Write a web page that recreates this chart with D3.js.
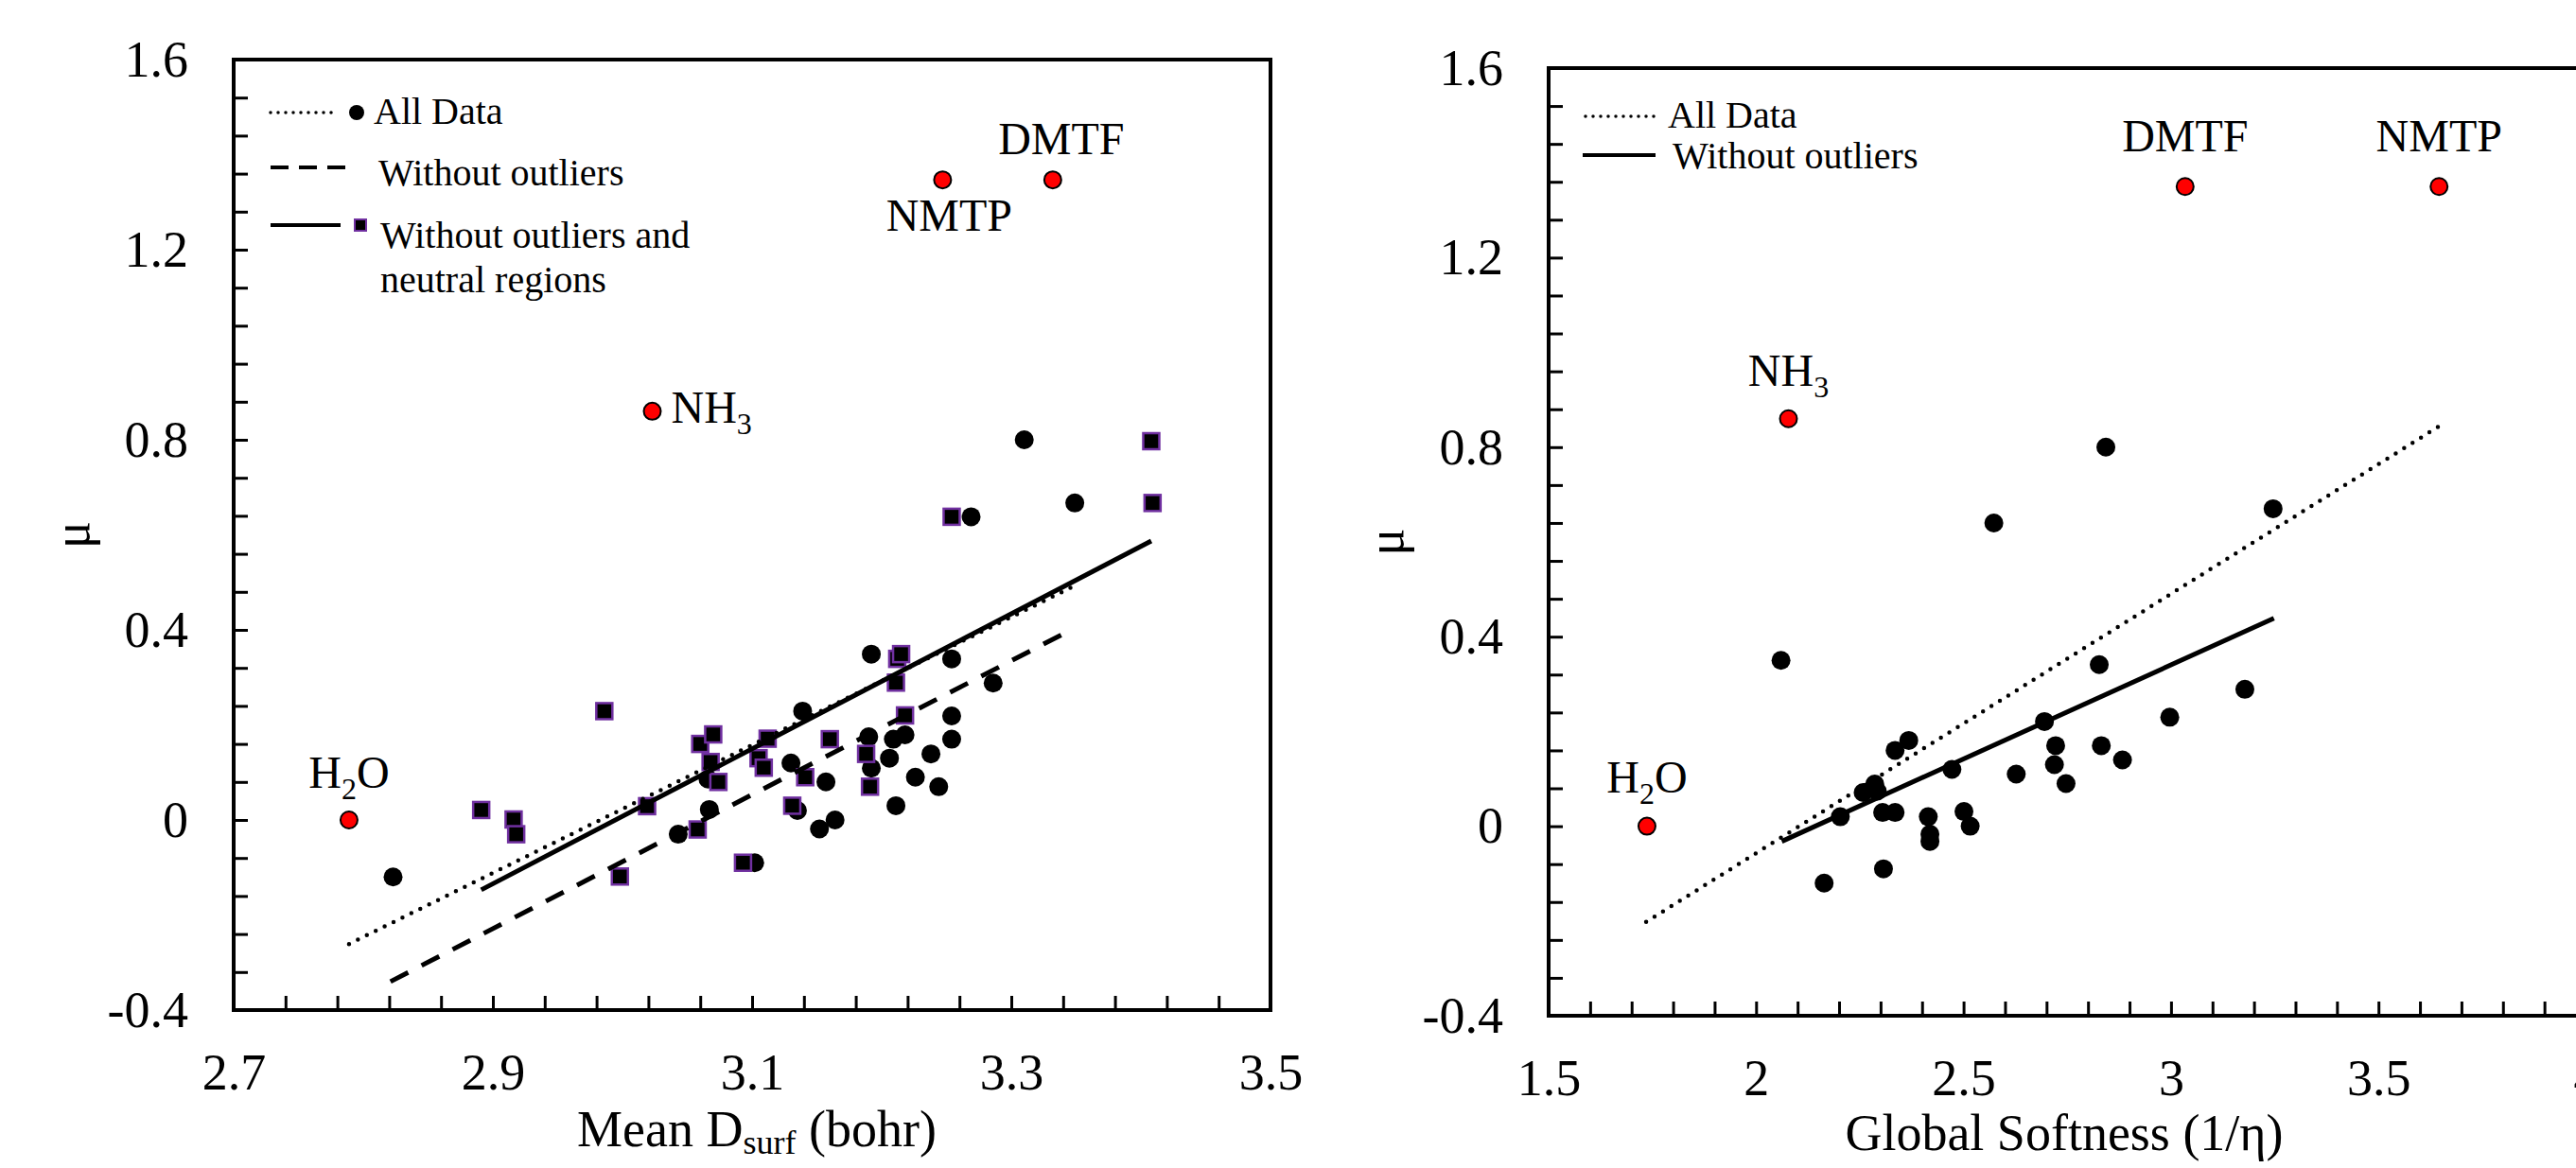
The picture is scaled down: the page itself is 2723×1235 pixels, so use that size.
<!DOCTYPE html>
<html>
<head>
<meta charset="utf-8">
<script src="https://cdn.jsdelivr.net/npm/d3@7"></script>
<style>
  html, body { margin: 0; padding: 0; background: #fff; overflow: hidden; }
  svg { display: block; font-family: "Liberation Serif", "Times New Roman", serif; }
</style>
</head>
<body>
<svg id="chart" width="2723" height="1235"></svg>
<script>
// ---- data ----
const yTickLabels = ["-0.4", "0", "0.4", "0.8", "1.2", "1.6"];
const leftXTickLabels = ["2.7", "2.9", "3.1", "3.3", "3.5"];
const rightXTickLabels = ["1.5", "2", "2.5", "3", "3.5", "4"];

// left panel: mean D_surf vs mu
const leftAllData = [
  [2.823, -0.12], [3.043, -0.03], [3.067, 0.022], [3.066, 0.086], [3.102, -0.09],
  [3.130, 0.12], [3.135, 0.02], [3.139, 0.229], [3.152, -0.019], [3.157, 0.08],
  [3.164, 0.0], [3.190, 0.175], [3.192, 0.349], [3.192, 0.109], [3.206, 0.13],
  [3.209, 0.17], [3.211, 0.03], [3.218, 0.179], [3.226, 0.09], [3.238, 0.139],
  [3.244, 0.07], [3.254, 0.339], [3.254, 0.219], [3.254, 0.17], [3.286, 0.288],
  [3.269, 0.638], [3.310, 0.80], [3.349, 0.667]
];
const leftNeutral = [
  [2.891, 0.021], [2.916, 0.001], [2.918, -0.03], [2.986, 0.229], [2.998, -0.119],
  [3.019, 0.029], [3.058, -0.02], [3.060, 0.16], [3.070, 0.18], [3.068, 0.122],
  [3.074, 0.08], [3.093, -0.09], [3.105, 0.13], [3.109, 0.11], [3.112, 0.171],
  [3.131, 0.03], [3.141, 0.09], [3.160, 0.17], [3.188, 0.139], [3.191, 0.07],
  [3.211, 0.289], [3.212, 0.339], [3.215, 0.349], [3.218, 0.22], [3.254, 0.638],
  [3.408, 0.797], [3.409, 0.667]
];
const leftOutlierNames = ["H2O", "NH3", "NMTP", "DMTF"];
const leftOutliers = [[2.789, 0.0], [3.023, 0.86], [3.247, 1.347], [3.332, 1.347]];
const leftFitAll = [[2.789, -0.261], [3.346, 0.489]];
const leftFitNoOutliers = [[2.821, -0.340], [3.339, 0.390]];
const leftFitNeutral = [[2.891, -0.147], [3.408, 0.587]];

// right panel: global softness vs mu
const rightAllData = [
  [2.060, 0.35], [2.164, -0.12], [2.203, 0.02], [2.258, 0.071], [2.286, 0.089],
  [2.292, 0.074], [2.305, 0.029], [2.307, -0.09], [2.335, 0.029], [2.335, 0.16],
  [2.368, 0.181], [2.415, 0.02], [2.419, -0.017], [2.419, -0.032], [2.472, 0.12],
  [2.501, 0.031], [2.516, 0.0], [2.573, 0.64], [2.627, 0.11], [2.695, 0.221],
  [2.719, 0.13], [2.722, 0.17], [2.747, 0.09], [2.827, 0.341], [2.832, 0.17],
  [2.843, 0.80], [2.883, 0.14], [2.997, 0.23], [3.178, 0.289], [3.246, 0.67]
];
const rightOutlierNames = ["H2O", "NH3", "DMTF", "NMTP"];
const rightOutliers = [[1.737, 0.0], [2.078, 0.86], [3.034, 1.35], [3.646, 1.35]];
const rightFitAll = [[1.735, -0.202], [3.646, 0.844]];
const rightFitNoOutliers = [[2.062, -0.032], [3.248, 0.439]];

// ---- layout ----
const svg = d3.select("#chart");
const FONT = "'Liberation Serif', 'Times New Roman', serif";

const panels = [
  {
    xDomain: [2.7, 3.5], xRange: [247, 1343], yRange: [1068, 63], xMinor: 0.04,
    xTicks: leftXTickLabels, circles: leftAllData, squares: leftNeutral,
    outliers: leftOutliers, names: leftOutlierNames,
    fits: [
      { pts: leftFitAll, style: "dot" },
      { pts: leftFitNoOutliers, style: "dash" },
      { pts: leftFitNeutral, style: "solid" }
    ],
    xTitle: ["Mean D", "surf", " (bohr)"], xTitlePos: [800, 1212], yTitleX: 76,
    labelOffsets: { H2O: [0, -34, "middle"], NH3: [20, 12, "start"], NMTP: [7, 54, "middle"], DMTF: [9, -27, "middle"] }
  },
  {
    xDomain: [1.5, 4], xRange: [1637, 2733.5], yRange: [1074, 72], xMinor: 0.1,
    xTicks: rightXTickLabels, circles: rightAllData, squares: [],
    outliers: rightOutliers, names: rightOutlierNames,
    fits: [
      { pts: rightFitAll, style: "dot" },
      { pts: rightFitNoOutliers, style: "solid" }
    ],
    xTitle: ["Global Softness (1/\u03b7)"], xTitlePos: [2182, 1216], yTitleX: 1465,
    labelOffsets: { H2O: [0, -36, "middle"], NH3: [0, -35, "middle"], NMTP: [0, -37, "middle"], DMTF: [0, -37, "middle"] }
  }
];

function lineStyle(sel, style) {
  sel.attr("fill", "none").attr("stroke", "#000");
  if (style === "dot") {
    sel.attr("stroke-width", 4.5).attr("stroke-dasharray", "0,10.5").attr("stroke-linecap", "round");
  } else if (style === "dash") {
    sel.attr("stroke-width", 5).attr("stroke-dasharray", "21,16");
  } else {
    sel.attr("stroke-width", 5);
  }
}

function addChemLabel(g, name, px, py, anchor) {
  const t = g.append("text")
    .attr("x", px).attr("y", py)
    .attr("text-anchor", anchor)
    .attr("font-size", 48)
    .attr("font-family", FONT);
  const m = name.match(/^([A-Z]+)(\d)(.*)$/);
  if (m) {
    t.append("tspan").text(m[1]);
    t.append("tspan").attr("font-size", 32).attr("dy", 12).text(m[2]);
    if (m[3]) t.append("tspan").attr("dy", -12).text(m[3]);
  } else {
    t.text(name);
  }
}

function drawPanel(p) {
  const x = d3.scaleLinear().domain(p.xDomain).range(p.xRange);
  const y = d3.scaleLinear().domain([-0.4, 1.6]).range(p.yRange);
  const g = svg.append("g");
  const bottom = p.yRange[0], top = p.yRange[1];
  const left = p.xRange[0], right = p.xRange[1];

  // minor + major ticks (inward)
  const xMinorVals = d3.range(0, Math.round((p.xDomain[1] - p.xDomain[0]) / p.xMinor) + 1)
    .map(i => p.xDomain[0] + i * p.xMinor);
  const yMinorVals = d3.range(0, 26).map(i => -0.4 + i * 0.08);

  const xTickAxis = g.append("g").attr("transform", `translate(0,${bottom})`)
    .call(d3.axisBottom(x).tickValues(xMinorVals).tickSize(-15).tickFormat(""));
  const yTickAxis = g.append("g").attr("transform", `translate(${left},0)`)
    .call(d3.axisLeft(y).tickValues(yMinorVals).tickSize(-15).tickFormat(""));
  [xTickAxis, yTickAxis].forEach(a => {
    a.select(".domain").remove();
    a.selectAll(".tick line").attr("stroke", "#000").attr("stroke-width", 3);
  });

  // tick labels
  const xLab = g.append("g").attr("transform", `translate(0,${bottom})`)
    .call(d3.axisBottom(x).tickValues(p.xTicks.map(Number))
      .tickFormat((d, i) => p.xTicks[i]).tickSize(0).tickPadding(46));
  const yLab = g.append("g").attr("transform", `translate(${left},0)`)
    .call(d3.axisLeft(y).tickValues(yTickLabels.map(Number))
      .tickFormat((d, i) => yTickLabels[i]).tickSize(0).tickPadding(48));
  [xLab, yLab].forEach(a => {
    a.select(".domain").remove();
    a.attr("font-family", FONT).attr("font-size", 54);
    a.selectAll("text").attr("fill", "#000");
  });

  // frame
  g.append("rect")
    .attr("x", left).attr("y", top)
    .attr("width", right - left).attr("height", bottom - top)
    .attr("fill", "none").attr("stroke", "#000").attr("stroke-width", 4);

  // markers
  g.append("g").selectAll("circle").data(p.circles).join("circle")
    .attr("cx", d => x(d[0])).attr("cy", d => y(d[1]))
    .attr("r", 10).attr("fill", "#000");

  g.append("g").selectAll("rect").data(p.squares).join("rect")
    .attr("x", d => x(d[0]) - 8.5).attr("y", d => y(d[1]) - 8.5)
    .attr("width", 17).attr("height", 17)
    .attr("fill", "#000").attr("stroke", "#7030A0").attr("stroke-width", 2.5);

  g.append("g").selectAll("circle").data(p.outliers).join("circle")
    .attr("cx", d => x(d[0])).attr("cy", d => y(d[1]))
    .attr("r", 9).attr("fill", "#FF0000").attr("stroke", "#000").attr("stroke-width", 2);

  p.outliers.forEach((d, i) => {
    const name = p.names[i];
    const off = p.labelOffsets[name];
    addChemLabel(g, name, x(d[0]) + off[0], y(d[1]) + off[1], off[2]);
  });

  // fitted lines
  const line = d3.line().x(d => x(d[0])).y(d => y(d[1]));
  p.fits.forEach(f => {
    g.append("path").datum(f.pts).attr("d", line).call(lineStyle, f.style);
  });

  // axis titles
  const xt = g.append("text")
    .attr("x", p.xTitlePos[0]).attr("y", p.xTitlePos[1])
    .attr("text-anchor", "middle").attr("font-size", 54).attr("font-family", FONT);
  if (p.xTitle.length === 3) {
    xt.append("tspan").text(p.xTitle[0]);
    xt.append("tspan").attr("font-size", 36).attr("dy", 8).text(p.xTitle[1]);
    xt.append("tspan").attr("dy", -8).text(p.xTitle[2]);
  } else {
    xt.text(p.xTitle[0]);
  }

  g.append("text")
    .attr("transform", `translate(${p.yTitleX},${(top + bottom) / 2}) rotate(-90)`)
    .attr("text-anchor", "middle").attr("dominant-baseline", "central")
    .attr("font-size", 54).attr("font-family", FONT)
    .text("\u03bc");
}

panels.forEach(drawPanel);

// ---- legends ----
const legL = svg.append("g").attr("font-family", FONT).attr("font-size", 40);
legL.append("line").attr("x1", 286).attr("x2", 358).attr("y1", 119).attr("y2", 119)
  .attr("stroke", "#000").attr("stroke-width", 3.5).attr("stroke-dasharray", "0,8").attr("stroke-linecap", "round");
legL.append("circle").attr("cx", 377).attr("cy", 119).attr("r", 8).attr("fill", "#000");
legL.append("text").attr("x", 395).attr("y", 131).text("All Data");
legL.append("line").attr("x1", 286).attr("x2", 365).attr("y1", 177).attr("y2", 177)
  .attr("stroke", "#000").attr("stroke-width", 4).attr("stroke-dasharray", "19,11");
legL.append("text").attr("x", 400).attr("y", 196).text("Without outliers");
legL.append("line").attr("x1", 286).attr("x2", 360).attr("y1", 238).attr("y2", 238)
  .attr("stroke", "#000").attr("stroke-width", 4);
legL.append("rect").attr("x", 375).attr("y", 232).attr("width", 12).attr("height", 12)
  .attr("fill", "#000").attr("stroke", "#7030A0").attr("stroke-width", 2);
legL.append("text").attr("x", 402).attr("y", 262).text("Without outliers and");
legL.append("text").attr("x", 402).attr("y", 309).text("neutral regions");

const legR = svg.append("g").attr("font-family", FONT).attr("font-size", 40);
legR.append("line").attr("x1", 1676).attr("x2", 1750).attr("y1", 123).attr("y2", 123)
  .attr("stroke", "#000").attr("stroke-width", 3.5).attr("stroke-dasharray", "0,8").attr("stroke-linecap", "round");
legR.append("text").attr("x", 1763).attr("y", 135).text("All Data");
legR.append("line").attr("x1", 1673).attr("x2", 1750).attr("y1", 164).attr("y2", 164)
  .attr("stroke", "#000").attr("stroke-width", 4);
legR.append("text").attr("x", 1768).attr("y", 178).text("Without outliers");
</script>
</body>
</html>
